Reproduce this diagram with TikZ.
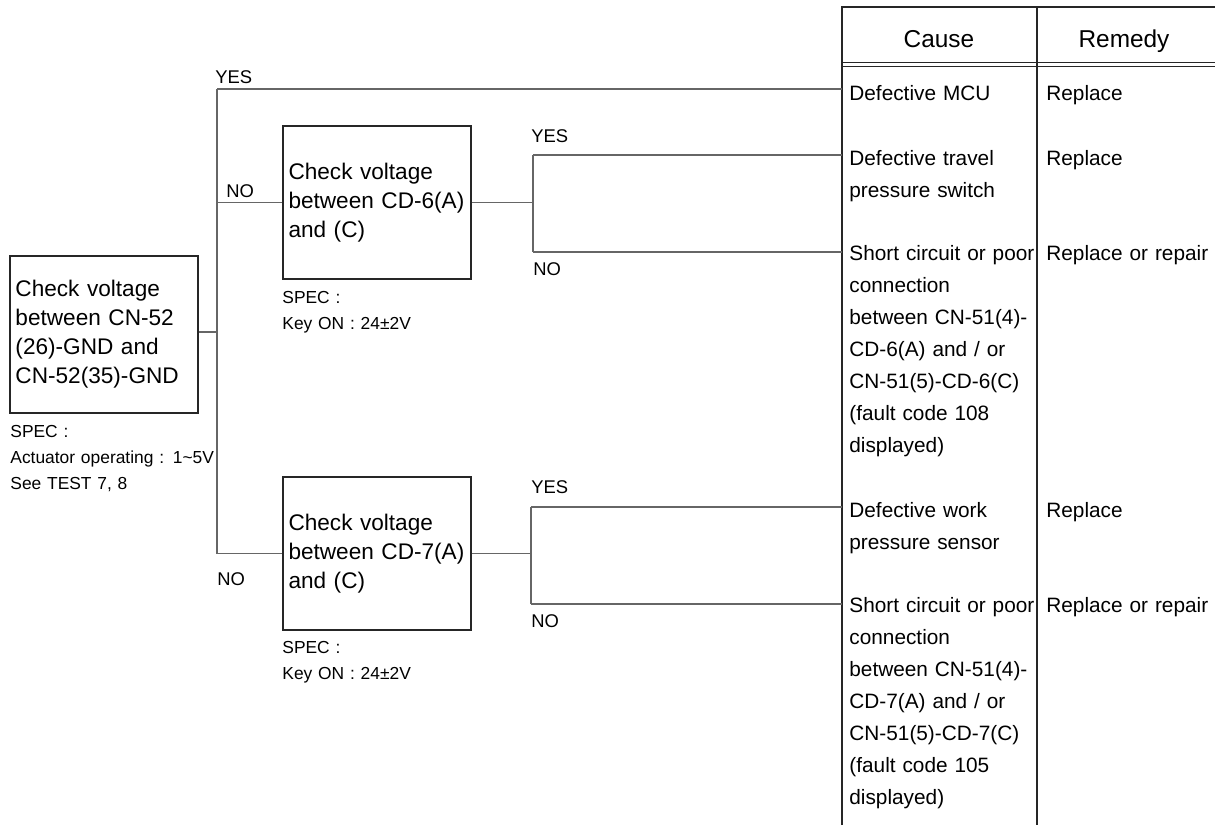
\documentclass[tikz,border=0pt]{standalone}
\usepackage{fontspec}
\setmainfont{Liberation Sans}
\usetikzlibrary{calc, positioning}
\newcommand{\boxFont}{\fontsize{11.3}{14.5}\selectfont}
\newcommand{\tblFont}{\fontsize{10.4}{16}\selectfont}
\newcommand{\headFont}{\fontsize{12.2}{14}\selectfont}
\newcommand{\specFont}{\fontsize{8.7}{13}\selectfont}
\newcommand{\ansFont}{\fontsize{9.2}{11}\selectfont}
\tikzset{
    chkBox/.style={draw=black!85, line width=0.75pt, text=black, font=\boxFont, text width=88.5pt, align=left, inner xsep=2.75pt, inner ysep=0pt},
    flowLine/.style={draw=black!60, line width=0.65pt},
    tblLine/.style={draw=black!85, line width=1pt},
    tblThin/.style={draw=black!85, line width=0.6pt},
    specText/.style={anchor=base west, text=black, font=\specFont, text width=115pt, align=left, inner sep=0pt},
    ansText/.style={anchor=base west, text=black, font=\ansFont, inner sep=0pt},
    causeText/.style={anchor=base west, text=black, font=\tblFont, text width=96pt, align=left, inner sep=0pt},
    headText/.style={anchor=base, text=black, font=\headFont, inner sep=0pt},
}
\newcommand{\drawFork}[3]{
    % fork point #1, yes end #2, no end #3
    \draw[flowLine] (#2 -| #1) -- (#3 -| #1);
    \draw[flowLine] (#2 -| #1) -- (#2);
    \draw[flowLine] (#3 -| #1) -- (#3);
}
\begin{document}
\begin{tikzpicture}[x=0.5pt, y=-0.5pt]
        \useasboundingbox (0,0) rectangle (1215,825);

        % check boxes
        \node[chkBox, minimum height=78.5pt] (chkMain) at (104,334.5) {Check voltage\\between CN-52\\(26)-GND and\\CN-52(35)-GND};
        \node[chkBox, minimum height=76.5pt] (chk6) at (377,202.5) {Check voltage\\between CD-6(A)\\and (C)};
        \node[chkBox, minimum height=76.5pt] (chk7) at (377,553.5) {Check voltage\\between CD-7(A)\\and (C)};

        \node[specText] (specMain) at (10,437) {SPEC :\\Actuator operating : 1\textasciitilde5V\\See TEST 7, 8};
        \node[specText] (spec6) at (282,303) {SPEC :\\Key ON : 24±2V};
        \node[specText] (spec7) at (282,653) {SPEC :\\Key ON : 24±2V};

        % table
        \draw[tblLine] (842,825) -- (842,7) -- (1215,7);
        \draw[tblLine] (1037,7) -- (1037,825);
        \draw[tblThin] (842,62.5) -- (1215,62.5);
        \draw[tblThin] (842,66.5) -- (1215,66.5);
        \node[headText] (hCause) at (939,47) {Cause};
        \node[headText] (hRemedy) at (1124,47) {Remedy};

        \node[causeText] (cMCU) at (849,100) {Defective MCU};
        \node[causeText] (cTravel) at (849,165) {Defective travel\\pressure switch};
        \node[causeText] (cShort6) at (849,260) {Short circuit or poor\\connection\\between CN-51(4)-\\CD-6(A) and / or\\CN-51(5)-CD-6(C)\\(fault code 108\\displayed)};
        \node[causeText] (cWork) at (849,517) {Defective work\\pressure sensor};
        \node[causeText] (cShort7) at (849,612) {Short circuit or poor\\connection\\between CN-51(4)-\\CD-7(A) and / or\\CN-51(5)-CD-7(C)\\(fault code 105\\displayed)};

        \node[causeText] (rMCU) at (1046,100) {Replace};
        \node[causeText] (rTravel) at (1046,165) {Replace};
        \node[causeText] (rShort6) at (1046,260) {Replace or repair};
        \node[causeText] (rWork) at (1046,517) {Replace};
        \node[causeText] (rShort7) at (1046,612) {Replace or repair};

        % connectors
        \coordinate (inMCU) at (842,89);
        \coordinate (inTravel) at (842,155);
        \coordinate (inShort6) at (842,252);
        \coordinate (inWork) at (842,507);
        \coordinate (inShort7) at (842,604);
        \coordinate (jMain) at (217,332);
        \coordinate (f6) at (533,202.5);
        \coordinate (f7) at (531,553.5);

        \draw[flowLine] (chkMain.east |- jMain) -- (jMain);
        \drawFork{jMain}{inMCU}{chk7.west}
        \draw[flowLine] (chk6.west -| jMain) -- (chk6.west);
        \draw[flowLine] (chk6.east) -- (f6);
        \draw[flowLine] (chk7.east) -- (f7);
        \drawFork{f6}{inTravel}{inShort6}
        \drawFork{f7}{inWork}{inShort7}

        \node[ansText] (yMain) at (215,83) {YES};
        \node[ansText] (nMain6) at (226,197) {NO};
        \node[ansText] (nMain7) at (217,585) {NO};
        \node[ansText] (y6) at (531,142) {YES};
        \node[ansText] (n6) at (533,275) {NO};
        \node[ansText] (y7) at (531,493) {YES};
        \node[ansText] (n7) at (531,627) {NO};

    \end{tikzpicture}
\end{document}
